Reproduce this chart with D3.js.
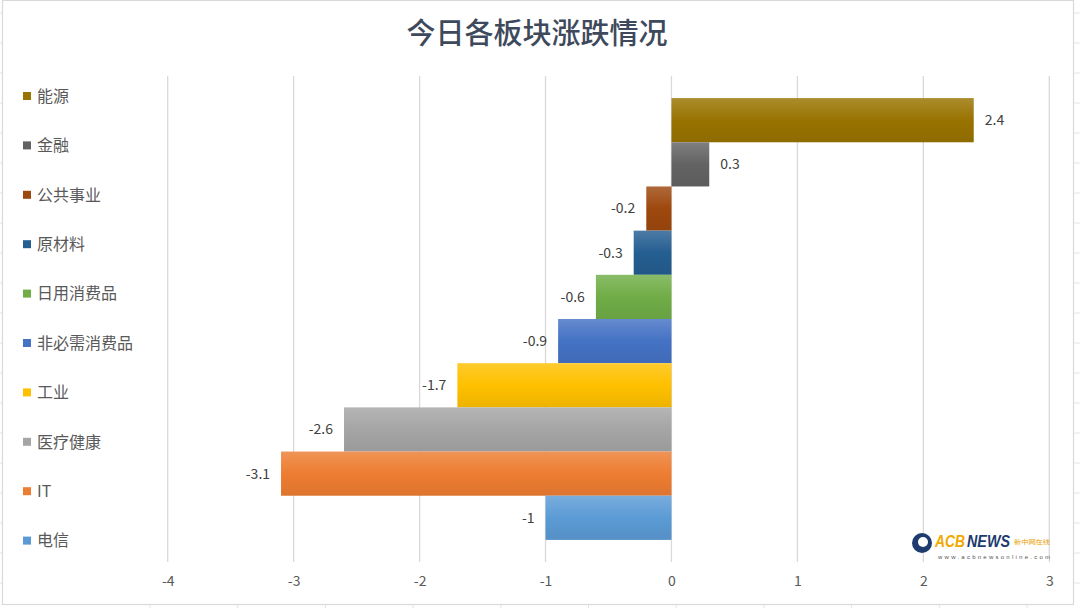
<!DOCTYPE html>
<html><head><meta charset="utf-8">
<script src="https://cdn.jsdelivr.net/npm/d3@7"></script>
<style>html,body{margin:0;padding:0;background:#fff;}svg{display:block;}</style>
</head><body>
<svg id="chart" width="1080" height="608"></svg>
<script>
const categories = ["能源","金融","公共事业","原材料","日用消费品","非必需消费品","工业","医疗健康","IT","电信"];
const values = [2.4, 0.3, -0.2, -0.3, -0.6, -0.9, -1.7, -2.6, -3.1, -1];
const colors = ["#997300","#636363","#9E480E","#255E91","#70AD47","#4472C4","#FFC000","#A5A5A5","#ED7D31","#5B9BD5"];
const tickValues = [-4,-3,-2,-1,0,1,2,3];
const title = "今日各板块涨跌情况";

const svg = d3.select("#chart");
const W = 1080, H = 608;
const font = "'Noto Sans CJK SC','Noto Sans',sans-serif";
const fmt = d => String(d);

// spreadsheet background grid
const bg = svg.append("g");
bg.append("rect").attr("width",W).attr("height",H).attr("fill","#fff");
d3.range(13, H, 30).forEach(y=>bg.append("line").attr("x1",0).attr("x2",W).attr("y1",y).attr("y2",y).attr("stroke","#e4e4e4"));
d3.range(150, W, 87.7).forEach(x=>bg.append("line").attr("x1",x).attr("x2",x).attr("y1",0).attr("y2",H).attr("stroke","#e4e4e4"));

// chart area
svg.append("rect").attr("x",2.5).attr("y",0.5).attr("width",1071).attr("height",604)
  .attr("fill","#fff").attr("stroke","#d9d9d9").attr("stroke-width",1.2);

const x = d3.scaleLinear().domain([-4,3]).range([167.7,1049.3]);
const y = d3.scaleBand().domain(d3.range(categories.length)).range([76,562]).paddingInner(0).paddingOuter(0.5);

// gradients
const defs = svg.append("defs");
colors.forEach((c,i)=>{
  const g = defs.append("linearGradient").attr("id","g"+i).attr("x1",0).attr("x2",0).attr("y1",0).attr("y2",1);
  g.append("stop").attr("offset","0%").attr("stop-color", d3.interpolateRgb(c,"#fff")(0.18));
  g.append("stop").attr("offset","50%").attr("stop-color", c);
  g.append("stop").attr("offset","100%").attr("stop-color", d3.color(c).darker(0.2));
});

// gridlines
svg.append("g").selectAll("line").data(tickValues).join("line")
  .attr("x1",d=>x(d)).attr("x2",d=>x(d)).attr("y1",76).attr("y2",562)
  .attr("stroke","#d9d9d9").attr("stroke-width",1.3);

// axis labels
const axis = d3.axisBottom(x).tickValues(tickValues).tickSize(0).tickPadding(0).tickFormat(fmt);
const ag = svg.append("g").attr("transform","translate(0,576)").call(axis);
ag.select(".domain").remove();
ag.selectAll("text").attr("font-family",font).attr("font-size",14).attr("fill","#595959").attr("dy","0.71em");

// bars
svg.append("g").selectAll("rect").data(values).join("rect")
  .attr("x",d=>x(Math.min(0,d))).attr("width",d=>Math.abs(x(d)-x(0)))
  .attr("y",(d,i)=>y(i)).attr("height",y.bandwidth())
  .attr("fill",(d,i)=>`url(#g${i})`);

// data labels
svg.append("g").selectAll("text").data(values).join("text")
  .attr("x",d=>d>=0 ? x(d)+11 : x(d)-11)
  .attr("y",(d,i)=>y(i)+y.bandwidth()/2)
  .attr("dy","0.35em")
  .attr("text-anchor",d=>d>=0?"start":"end")
  .attr("font-family",font).attr("font-size",14).attr("fill","#404040")
  .text(fmt);

// legend
const lg = svg.append("g").selectAll("g").data(categories).join("g")
  .attr("transform",(d,i)=>`translate(23,${96 + i*49.4})`);
lg.append("rect").attr("x",0).attr("y",-4).attr("width",8).attr("height",8).attr("fill",(d,i)=>colors[i]);
lg.append("text").attr("x",14).attr("dy","0.36em").attr("font-family",font).attr("font-size",16)
  .attr("fill","#595959").text(d=>d);

// title
svg.append("text").attr("x",537).attr("y",34).attr("dy","0.36em").attr("text-anchor","middle")
  .attr("font-family",font).attr("font-size",29).attr("fill","#3e4a5c").attr("font-weight",500).text(title);

// watermark logo
const logo = svg.append("g").attr("transform","translate(910,530)");
logo.append("circle").attr("cx",12).attr("cy",13).attr("r",10).attr("fill","#1d3b6e");
logo.append("circle").attr("cx",13).attr("cy",12).attr("r",5).attr("fill","#fff");
logo.append("text").attr("x",25).attr("y",17).attr("font-family","'Liberation Sans',sans-serif").attr("font-weight","bold")
  .attr("font-style","italic").attr("font-size",16).attr("textLength",30).attr("lengthAdjust","spacingAndGlyphs")
  .attr("fill","#f2a900").text("ACB");
logo.append("text").attr("x",57).attr("y",17).attr("font-family","'Liberation Sans',sans-serif").attr("font-weight","bold")
  .attr("font-style","italic").attr("font-size",16).attr("textLength",43).attr("lengthAdjust","spacingAndGlyphs")
  .attr("fill","#1d3b6e").text("NEWS");
logo.append("text").attr("x",104).attr("y",14).attr("font-family",font).attr("font-size",6)
  .attr("textLength",36).attr("lengthAdjust","spacingAndGlyphs").attr("fill","#e8a000").text("新中网在线");
logo.append("text").attr("x",28).attr("y",29).attr("font-family","'Liberation Sans',sans-serif").attr("font-size",6)
  .attr("textLength",112).attr("lengthAdjust","spacing").attr("fill","#555").text("www.acbnewsonline.com");
</script>
</body></html>
